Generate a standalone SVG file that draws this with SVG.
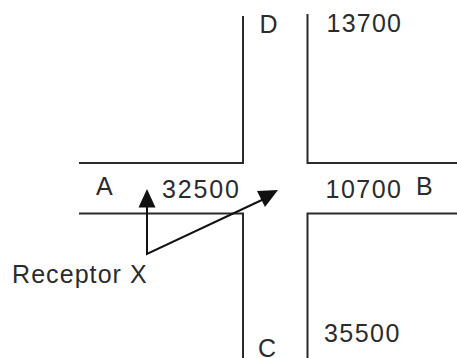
<svg xmlns="http://www.w3.org/2000/svg" width="457" height="358" viewBox="0 0 457 358">
<style>
.road{fill:none;stroke:#2a2a2a;stroke-width:2}
.arr{fill:none;stroke:#111;stroke-width:2}
.head{fill:#111;stroke:none}
text{font-family:"Liberation Sans",Arial,sans-serif;font-size:25px;fill:#2b2b2b}
</style>
<rect width="457" height="358" fill="#fff"/>
<g id="roads">
<polyline class="road" points="243,16 243,163 79,163"/>
<polyline class="road" points="307.5,14 307.5,163 457,163"/>
<polyline class="road" points="79,213.5 243,213.5 243,358"/>
<polyline class="road" points="457,213.5 307.5,213.5 307.5,358"/>
</g>
<g id="labels">
<text x="96" y="195">A</text>
<text x="416" y="195">B</text>
<text x="258" y="357">C</text>
<text x="259.5" y="33">D</text>
<text x="162" y="198" textLength="77" lengthAdjust="spacing">32500</text>
<text x="325.6" y="198" textLength="75.4" lengthAdjust="spacing">10700</text>
<text x="326.6" y="32" textLength="74.4" lengthAdjust="spacing">13700</text>
<text x="324" y="342" textLength="75.3" lengthAdjust="spacing">35500</text>
</g>
<g id="receptor-x">
<text x="12" y="283" textLength="134.7" lengthAdjust="spacing">Receptor X</text>
</g>
<g id="connectors">
<polyline class="arr" points="147,206 147,254 264,199"/>
<polygon class="head" points="147,189 138.5,207.5 155.5,207.5"/>
<polygon class="head" points="278,190 257,191 265,207"/>
</g>
</svg>
